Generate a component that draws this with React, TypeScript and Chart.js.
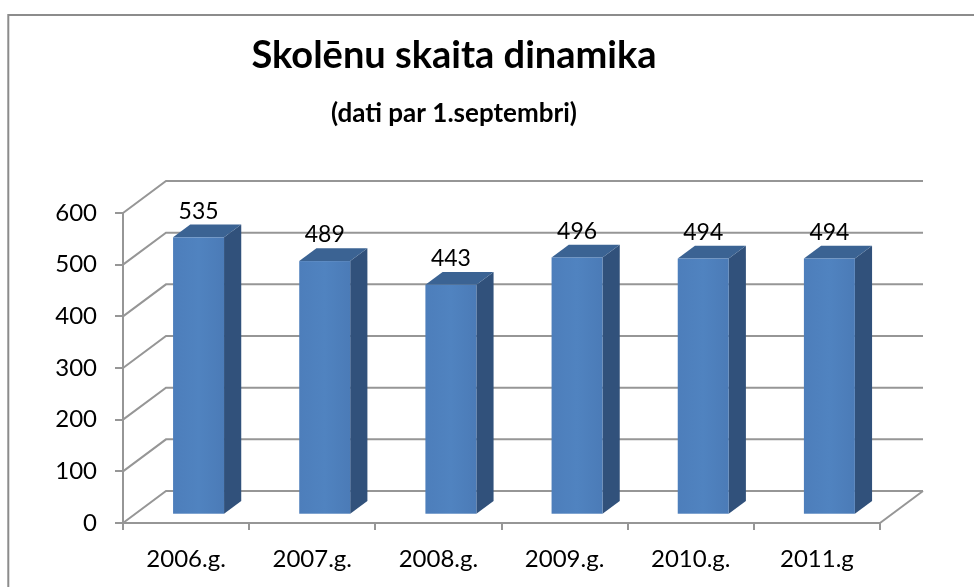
import React, { useEffect, useRef } from "react";
import { Chart, registerables } from "chart.js";

Chart.register(...registerables);

const categories = ["2006.g.", "2007.g.", "2008.g.", "2009.g.", "2010.g.", "2011.g"];
const values = [535, 489, 443, 496, 494, 494];
const yMin = 0;
const yMax = 600;
const yStep = 100;
const titleText = "Skolēnu skaita dinamika";
const subtitleText = "(dati par 1.septembri)";

const FONT = "Lato, 'Open Sans', sans-serif";
const GRID = "#969696";
const DEPTH_X = 43;
const DEPTH_Y = -32;
const BAR_FRONT = 0.29;
const BAR_DEPTH = 0.4;

const threeD = {
  id: "threeD",
  beforeDraw(chart: any) {
    const ctx = chart.ctx;
    ctx.save();
    ctx.strokeStyle = "#8c8c8c";
    ctx.lineWidth = 2;
    ctx.beginPath();
    ctx.moveTo(8.3, chart.height + 5);
    ctx.lineTo(8.3, 15);
    ctx.lineTo(chart.width + 5, 15);
    ctx.stroke();
    ctx.restore();
  },
  beforeDatasetsDraw(chart: any) {
    const ctx = chart.ctx;
    const ys = chart.scales.y;
    const { left, right, bottom } = chart.chartArea;
    ctx.save();
    ctx.strokeStyle = GRID;
    ctx.lineWidth = 2;
    for (const t of ys.ticks) {
      const py = ys.getPixelForValue(t.value);
      ctx.beginPath();
      ctx.moveTo(left, py);
      ctx.lineTo(left + DEPTH_X, py + DEPTH_Y);
      ctx.lineTo(right + DEPTH_X, py + DEPTH_Y);
      ctx.stroke();
    }
    ctx.beginPath();
    ctx.moveTo(right, bottom);
    ctx.lineTo(right + DEPTH_X, bottom + DEPTH_Y);
    ctx.stroke();
    ctx.restore();
  },
  afterDatasetsDraw(chart: any) {
    const ctx = chart.ctx;
    const ys = chart.scales.y;
    const meta = chart.getDatasetMeta(0);
    const data = chart.data.datasets[0].data as number[];
    const fx = BAR_FRONT * DEPTH_X;
    const fy = BAR_FRONT * DEPTH_Y;
    const dx = BAR_DEPTH * DEPTH_X;
    const dy = BAR_DEPTH * DEPTH_Y;
    ctx.save();
    meta.data.forEach((el: any, i: number) => {
      const w = el.width;
      const xl = el.x - w / 2 + fx;
      const yTop = ys.getPixelForValue(data[i]) + fy;
      const yBase = ys.getPixelForValue(0) + fy;
      // side
      ctx.fillStyle = "#31517b";
      ctx.beginPath();
      ctx.moveTo(xl + w, yTop);
      ctx.lineTo(xl + w + dx, yTop + dy);
      ctx.lineTo(xl + w + dx, yBase + dy);
      ctx.lineTo(xl + w, yBase);
      ctx.closePath();
      ctx.fill();
      // top
      ctx.fillStyle = "#3b6393";
      ctx.beginPath();
      ctx.moveTo(xl, yTop);
      ctx.lineTo(xl + w, yTop);
      ctx.lineTo(xl + w + dx, yTop + dy);
      ctx.lineTo(xl + dx, yTop + dy);
      ctx.closePath();
      ctx.fill();
      // front
      const g = ctx.createLinearGradient(xl, 0, xl + w, 0);
      g.addColorStop(0, "#4d7ebb");
      g.addColorStop(0.5, "#5083c0");
      g.addColorStop(1, "#4b7bb7");
      ctx.fillStyle = g;
      ctx.fillRect(xl, yTop, w, yBase - yTop);
      // label
      ctx.fillStyle = "#000";
      ctx.font = `23px ${FONT}`;
      ctx.textAlign = "center";
      ctx.textBaseline = "alphabetic";
      ctx.fillText(String(data[i]), xl + w / 2, yTop + dy - 6);
    });
    ctx.restore();
  },
};

export default function App() {
  const ref = useRef<HTMLCanvasElement | null>(null);
  useEffect(() => {
    if (!ref.current) return;
    const chart = new Chart(ref.current, {
      type: "bar",
      data: {
        labels: categories,
        datasets: [
          {
            data: values,
            backgroundColor: "rgba(0,0,0,0)",
            borderWidth: 0,
            categoryPercentage: 1,
            barPercentage: 0.404,
          },
        ],
      },
      options: {
        animation: false,
        responsive: false,
        events: [],
        layout: { padding: { left: 28, right: 94, top: 10, bottom: 0 } },
        plugins: {
          legend: { display: false },
          tooltip: { enabled: false },
          title: {
            display: true,
            text: titleText,
            color: "#000",
            font: { family: FONT, size: 38, weight: "bold", lineHeight: 1.2 },
            padding: { top: 23, bottom: 0 },
          },
          subtitle: {
            display: true,
            text: subtitleText,
            color: "#000",
            font: { family: FONT, size: 26, weight: "bold", lineHeight: 1.2 },
            padding: { top: 19.8, bottom: 83.4 },
          },
        },
        scales: {
          x: {
            afterFit: (s: any) => {
              s.height = 64;
            },
            grid: {
              display: true,
              drawOnChartArea: false,
              drawTicks: true,
              tickLength: 7,
              color: GRID,
              lineWidth: 2,
              offset: true,
            },
            border: { display: true, color: GRID, width: 2 },
            ticks: { color: "#000", font: { family: FONT, size: 24 }, padding: 15, maxRotation: 0 },
          },
          y: {
            min: yMin,
            max: yMax,
            afterFit: (s: any) => {
              s.width = 95;
            },
            grid: {
              display: true,
              drawOnChartArea: false,
              drawTicks: true,
              tickLength: 8,
              color: GRID,
              lineWidth: 2,
            },
            border: { display: true, color: GRID, width: 2 },
            ticks: { stepSize: yStep, color: "#000", font: { family: FONT, size: 24 }, padding: 18 },
          },
        },
      },
      plugins: [threeD],
    });
    return () => chart.destroy();
  }, []);
  return (
    <div style={{ position: "fixed", left: 0, top: 0, width: 974, height: 587, background: "#fff" }}>
      <canvas ref={ref} width={974} height={587} style={{ display: "block" }} />
    </div>
  );
}
